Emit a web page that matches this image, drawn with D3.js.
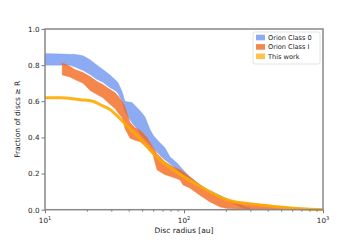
<!DOCTYPE html>
<html><head><meta charset="utf-8">
<script src="https://cdn.jsdelivr.net/npm/d3@7"></script>
<style>body{margin:0;background:#fff}svg{display:block}text{font-family:"DejaVu Sans",sans-serif;fill:#222}</style>
</head><body><svg id="c" width="360" height="240"></svg>
<script>
// ---- data ----
const class0R  = [10, 13.3, 15.1, 16.4, 18.8, 21.1, 23.7, 26.1, 29.4, 31.9, 33.5, 35.8, 37.6, 42.3, 45.9, 48.3, 52.4, 56.9, 59.8, 61.9, 67.2, 73.0, 79.3, 89.1, 98.4, 110, 126, 142, 167, 214, 266, 299];
const class0Hi = [0.864, 0.862, 0.86, 0.86, 0.852, 0.83, 0.80, 0.776, 0.745, 0.72, 0.704, 0.656, 0.60, 0.593, 0.565, 0.548, 0.515, 0.445, 0.415, 0.40, 0.371, 0.343, 0.293, 0.259, 0.221, 0.182, 0.148, 0.12, 0.093, 0.054, 0.021, 0.01];
const class0Lo = [0.80, 0.80, 0.80, 0.79, 0.77, 0.748, 0.72, 0.705, 0.675, 0.66, 0.645, 0.60, 0.543, 0.48, 0.45, 0.42, 0.39, 0.36, 0.343, 0.332, 0.30, 0.275, 0.254, 0.221, 0.193, 0.165, 0.137, 0.109, 0.076, 0.043, 0.009, 0.0];

const class1R  = [13.3, 15.1, 16.4, 18.8, 21.1, 23.7, 26.1, 29.4, 31.9, 33.5, 35.8, 37.6, 40.9, 44.4, 48.3, 54.2, 59.8, 61.9, 63.9, 67.2, 73.0, 83.3, 93.6, 98.4, 110, 130, 154, 182, 204, 253, 352, 490, 706];
const class1Hi = [0.813, 0.794, 0.776, 0.759, 0.737, 0.709, 0.693, 0.665, 0.648, 0.63, 0.60, 0.57, 0.482, 0.455, 0.44, 0.40, 0.345, 0.33, 0.31, 0.293, 0.265, 0.237, 0.221, 0.21, 0.182, 0.137, 0.098, 0.07, 0.054, 0.043, 0.032, 0.018, 0.006];
const class1Lo = [0.745, 0.735, 0.72, 0.70, 0.66, 0.637, 0.62, 0.582, 0.56, 0.537, 0.51, 0.45, 0.395, 0.385, 0.376, 0.343, 0.304, 0.26, 0.221, 0.21, 0.193, 0.179, 0.165, 0.137, 0.12, 0.08, 0.043, 0.015, 0.007, 0.004, 0.002, 0.001, 0.0];

const thisR = [10, 12.8, 17.9, 22.1, 24.9, 29.4, 33.5, 40.9, 48.3, 56.9, 67.2, 83.3, 105, 130, 154, 182, 225, 284, 490, 767, 1000];
const thisF = [0.62, 0.62, 0.609, 0.60, 0.582, 0.554, 0.515, 0.447, 0.393, 0.332, 0.276, 0.221, 0.172, 0.13, 0.098, 0.07, 0.045, 0.035, 0.015, 0.004, 0.0];

const legendLabels = ["Orion Class 0", "Orion Class I", "This work"];
const yTicks = [0, 0.2, 0.4, 0.6, 0.8, 1.0];
const xMajor = [10, 100, 1000];
const xMinor = [20,30,40,50,60,70,80,90,200,300,400,500,600,700,800,900];

// ---- layout ----
const svg = d3.select("#c");
const L = 45, R = 323, T = 29, B = 209.7;
const x = d3.scaleLog().domain([10, 1000]).range([L, R]);
const y = d3.scaleLinear().domain([0, 1]).range([B, T]);

const col0 = "#6d93ee", col1 = "#f26419", colW = "#ffaa00";

function band(rs, lo, hi) {
  return d3.area().x((d, i) => x(rs[i])).y0((d, i) => y(lo[i])).y1((d, i) => y(hi[i]))(rs);
}
svg.append("path").attr("d", band(class0R, class0Lo, class0Hi))
  .attr("fill", col0).attr("fill-opacity", 0.78).attr("stroke", col0).attr("stroke-opacity", 0.5).attr("stroke-width", 0.6);
svg.append("path").attr("d", band(class1R, class1Lo, class1Hi))
  .attr("fill", col1).attr("fill-opacity", 0.78).attr("stroke", col1).attr("stroke-opacity", 0.5).attr("stroke-width", 0.6);
svg.append("path").attr("d", d3.line().x((d, i) => x(thisR[i])).y((d, i) => y(thisF[i])).curve(d3.curveMonotoneX)(thisR))
  .attr("fill", "none").attr("stroke", colW).attr("stroke-opacity", 0.9).attr("stroke-width", 3);

// ---- axes ----
const axisCol = "#888";
const xa = svg.append("g").attr("transform", `translate(0,${B})`)
  .call(d3.axisBottom(x).tickValues(xMajor).tickSize(3.5).tickFormat(() => ""));
const xm = svg.append("g").attr("transform", `translate(0,${B})`)
  .call(d3.axisBottom(x).tickValues(xMinor).tickSize(2).tickFormat(() => ""));
const ya = svg.append("g").attr("transform", `translate(${L},0)`)
  .call(d3.axisLeft(y).tickValues(yTicks).tickSize(3.5).tickPadding(2).tickFormat(d3.format(".1f")));
[xa, xm, ya].forEach(g => {
  g.select(".domain").remove();
  g.selectAll("line").attr("stroke", "#555").attr("stroke-width", 0.8);
  g.selectAll("text").style("font-family", "DejaVu Sans").style("font-size", "7.2px").attr("fill", "#222");
});
// x major labels with superscripts
xMajor.forEach(v => {
  const t = svg.append("text").attr("x", x(v)).attr("y", B + 13).attr("text-anchor", "middle")
    .style("font-size", "7.2px");
  t.append("tspan").text("10");
  t.append("tspan").attr("dy", -3).style("font-size", "5px").text(String(Math.round(Math.log10(v))));
});
// spines
svg.append("rect").attr("x", L).attr("y", T).attr("width", R - L).attr("height", B - T)
  .attr("fill", "none").attr("stroke", axisCol).attr("stroke-width", 1.5);

// axis labels
svg.append("text").attr("x", (L + R) / 2).attr("y", 233).attr("text-anchor", "middle")
  .style("font-size", "7.5px").text("Disc radius [au]");
svg.append("text").attr("transform", `translate(20,${(T + B) / 2}) rotate(-90)`).attr("text-anchor", "middle")
  .style("font-size", "7.5px").text("Fraction of discs \u2265 R");

// legend
const lg = svg.append("g");
lg.append("rect").attr("x", 253).attr("y", 32).attr("width", 67).attr("height", 32).attr("rx", 2)
  .attr("fill", "#fff").attr("fill-opacity", 0.85).attr("stroke", "#ddd").attr("stroke-width", 0.8);
const lcols = [col0, col1, colW];
legendLabels.forEach((lab, i) => {
  const cy = 37.5 + i * 9.4;
  lg.append("rect").attr("x", 256).attr("y", cy - 2.8).attr("width", 9).attr("height", 5.6)
    .attr("fill", lcols[i]).attr("fill-opacity", i === 2 ? 0.7 : 0.78);
  lg.append("text").attr("x", 268).attr("y", cy + 2.5).style("font-size", "6.6px").text(lab);
});
</script></body></html>
